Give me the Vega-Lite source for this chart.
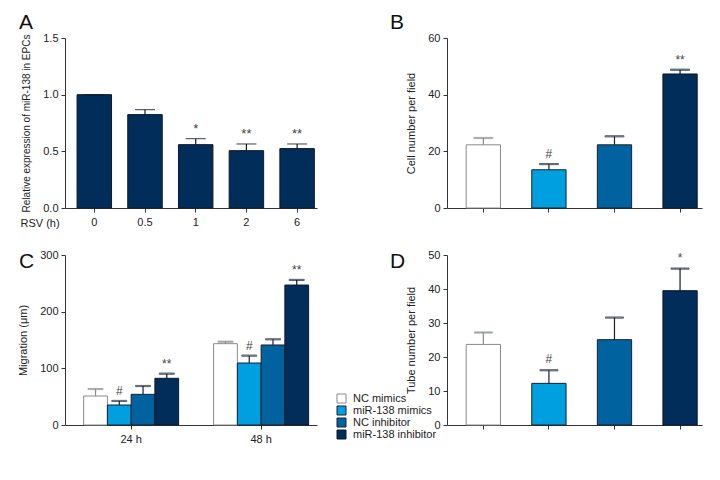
{
  "$schema": "https://vega.github.io/schema/vega-lite/v6.json",
  "padding": {"left": 17, "top": 12, "right": 5, "bottom": 5},
  "bounds": "flush",
  "columns": 2,
  "spacing": {"row": 47, "column": 130},
  "resolve": {"scale": {"fill": "independent", "stroke": "independent", "color": "independent"}, "legend": {"fill": "independent", "stroke": "independent", "color": "independent"}},
  "config": {
    "font": "Liberation Sans, Arial, sans-serif",
    "view": {"stroke": null},
    "axis": {"domainColor": "#333333", "tickColor": "#333333", "labelColor": "#222222", "titleColor": "#222222", "labelFontSize": 11, "titleFontSize": 11, "titleFontWeight": "normal", "grid": false, "tickSize": 4, "labelPadding": 3, "domainWidth": 1, "tickWidth": 1, "titlePadding": 11, "labelOverlap": false},
    "title": {"fontSize": 21, "fontWeight": "normal", "anchor": "start", "color": "#111111", "frame": "group"}
  },
  "datasets": {
    "A": [
      {"rsv": "0", "value": 1.0, "upper": 1.0, "sig": ""},
      {"rsv": "0.5", "value": 0.824, "upper": 0.868, "sig": ""},
      {"rsv": "1", "value": 0.559, "upper": 0.612, "sig": "*"},
      {"rsv": "2", "value": 0.506, "upper": 0.565, "sig": "**"},
      {"rsv": "6", "value": 0.524, "upper": 0.565, "sig": "**"}
    ],
    "B": [
      {"group": "NC mimics", "value": 22.3, "upper": 24.7, "sig": ""},
      {"group": "miR-138 mimics", "value": 13.5, "upper": 15.5, "sig": "#"},
      {"group": "NC inhibitor", "value": 22.3, "upper": 25.3, "sig": ""},
      {"group": "miR-138 inhibitor", "value": 47.3, "upper": 48.8, "sig": "**"}
    ],
    "C": [
      {"time": "24 h", "group": "NC mimics", "value": 51.2, "upper": 63.5, "sig": ""},
      {"time": "24 h", "group": "miR-138 mimics", "value": 35.3, "upper": 42.4, "sig": "#"},
      {"time": "24 h", "group": "NC inhibitor", "value": 54.1, "upper": 68.8, "sig": ""},
      {"time": "24 h", "group": "miR-138 inhibitor", "value": 82.4, "upper": 90.6, "sig": "**"},
      {"time": "48 h", "group": "NC mimics", "value": 143.5, "upper": 147, "sig": ""},
      {"time": "48 h", "group": "miR-138 mimics", "value": 109.4, "upper": 122.4, "sig": "#"},
      {"time": "48 h", "group": "NC inhibitor", "value": 141.2, "upper": 151.2, "sig": ""},
      {"time": "48 h", "group": "miR-138 inhibitor", "value": 247, "upper": 256, "sig": "**"}
    ],
    "D": [
      {"group": "NC mimics", "value": 23.7, "upper": 27.2, "sig": ""},
      {"group": "miR-138 mimics", "value": 12.25, "upper": 16.1, "sig": "#"},
      {"group": "NC inhibitor", "value": 25.1, "upper": 31.6, "sig": ""},
      {"group": "miR-138 inhibitor", "value": 39.5, "upper": 46, "sig": "*"}
    ]
  },
  "concat": [
    {
      "title": {"text": "A", "dx": -46, "dy": 3, "offset": 2},
      "width": 252, "height": 170,
      "data": {"name": "A"},
      "encoding": {
        "x": {"field": "rsv", "type": "nominal", "sort": null,
          "scale": {"paddingInner": 0.32, "paddingOuter": 0.145, "align": 0.82},
          "axis": {"labelAngle": 0, "title": "RSV (h)", "titleX": -45, "titleY": 15, "titleAlign": "left", "titleAngle": 0, "titleBaseline": "middle", "titleFontSize": 11, "labelPadding": 4}}
      },
      "layer": [
        {"mark": {"type": "bar", "color": "#002d5a", "stroke": "#101828", "strokeWidth": 1},
         "encoding": {"y": {"field": "value", "type": "quantitative", "scale": {"domain": [0, 1.5], "nice": false},
           "axis": {"values": [0, 0.5, 1, 1.5], "tickCount": 10, "format": ".1f", "title": "Relative expression of miR-138 in EPCs", "titleFontSize": 10}}}},
        {"mark": {"type": "rule", "color": "#101828", "strokeWidth": 1.2},
         "encoding": {"y": {"field": "value", "type": "quantitative"}, "y2": {"field": "upper"}}},
        {"mark": {"type": "tick", "size": 20, "thickness": 1.2, "color": "#101828"},
         "encoding": {"y": {"field": "upper", "type": "quantitative"}}},
        {"mark": {"type": "text", "baseline": "bottom", "dy": -3, "fontSize": 13, "color": "#444444"},
         "encoding": {"y": {"field": "upper", "type": "quantitative"}, "text": {"field": "sig"}}}
      ]
    },
    {
      "title": {"text": "B", "dx": -57, "dy": 3, "offset": 2},
      "width": 255, "height": 170,
      "data": {"name": "B"},
      "encoding": {
        "x": {"field": "group", "type": "nominal", "sort": null,
          "scale": {"paddingInner": 0.477, "paddingOuter": 0.183, "align": 0.8},
          "axis": {"labels": false, "title": null}}
      },
      "layer": [
        {"mark": {"type": "bar", "strokeWidth": 1},
         "encoding": {
           "y": {"field": "value", "type": "quantitative", "scale": {"domain": [0, 60], "nice": false},
             "axis": {"values": [0, 20, 40, 60], "tickCount": 10, "title": "Cell number per field"}},
           "fill": {"field": "group", "type": "nominal", "legend": null,
             "scale": {"domain": ["NC mimics", "miR-138 mimics", "NC inhibitor", "miR-138 inhibitor"], "range": ["#ffffff", "#009fdf", "#00629e", "#002d5a"]}},
           "stroke": {"field": "group", "type": "nominal", "legend": null,
             "scale": {"domain": ["NC mimics", "miR-138 mimics", "NC inhibitor", "miR-138 inhibitor"], "range": ["#8a8a8a", "#1a2030", "#1a2030", "#101828"]}}
         }},
        {"mark": {"type": "rule", "strokeWidth": 1.2},
         "encoding": {"y": {"field": "value", "type": "quantitative"}, "y2": {"field": "upper"},
           "stroke": {"field": "group", "type": "nominal", "legend": null}}},
        {"mark": {"type": "tick", "size": 19, "thickness": 1.2},
         "encoding": {"y": {"field": "upper", "type": "quantitative"},
           "stroke": {"field": "group", "type": "nominal", "legend": null}}},
        {"mark": {"type": "text", "baseline": "bottom", "dy": -3, "fontSize": 12, "color": "#444444"},
         "encoding": {"y": {"field": "upper", "type": "quantitative"}, "text": {"field": "sig"}}}
      ]
    },
    {
      "title": {"text": "C", "dx": -46, "dy": 25, "offset": 2},
      "width": 252, "height": 170,
      "data": {"name": "C"},
      "encoding": {
        "x": {"field": "time", "type": "nominal", "sort": null,
          "scale": {"paddingInner": 0.269, "paddingOuter": 0.104, "align": 0.69},
          "axis": {"labelAngle": 0, "title": null, "labelPadding": 4}},
        "xOffset": {"field": "group", "type": "nominal", "sort": null,
          "scale": {"domain": ["NC mimics", "miR-138 mimics", "NC inhibitor", "miR-138 inhibitor"], "paddingInner": 0, "paddingOuter": 0}}
      },
      "layer": [
        {"mark": {"type": "bar", "strokeWidth": 1},
         "encoding": {
           "y": {"field": "value", "type": "quantitative", "scale": {"domain": [0, 300], "nice": false},
             "axis": {"values": [0, 100, 200, 300], "tickCount": 10, "title": "Migration (μm)"}},
           "fill": {"field": "group", "type": "nominal",
             "scale": {"domain": ["NC mimics", "miR-138 mimics", "NC inhibitor", "miR-138 inhibitor"], "range": ["#ffffff", "#009fdf", "#00629e", "#002d5a"]},
             "legend": {"title": null, "orient": "none", "legendX": 271, "legendY": 138, "symbolType": "square", "symbolSize": 81, "symbolStrokeColor": "#222222", "symbolStrokeWidth": 1, "labelFontSize": 11, "labelColor": "#222222", "rowPadding": -4, "labelOffset": 6, "padding": 0}},
           "stroke": {"field": "group", "type": "nominal", "legend": null,
             "scale": {"domain": ["NC mimics", "miR-138 mimics", "NC inhibitor", "miR-138 inhibitor"], "range": ["#8a8a8a", "#1a2030", "#1a2030", "#101828"]}}
         }},
        {"mark": {"type": "rule", "strokeWidth": 1.2},
         "encoding": {"y": {"field": "value", "type": "quantitative"}, "y2": {"field": "upper"},
           "stroke": {"field": "group", "type": "nominal", "legend": null}}},
        {"mark": {"type": "tick", "size": 15, "thickness": 1.2},
         "encoding": {"y": {"field": "upper", "type": "quantitative"},
           "stroke": {"field": "group", "type": "nominal", "legend": null}}},
        {"mark": {"type": "text", "baseline": "bottom", "dy": -3, "fontSize": 12, "color": "#444444"},
         "encoding": {"y": {"field": "upper", "type": "quantitative"}, "text": {"field": "sig"}}}
      ]
    },
    {
      "title": {"text": "D", "dx": -57, "dy": 25, "offset": 2},
      "width": 255, "height": 170,
      "data": {"name": "D"},
      "encoding": {
        "x": {"field": "group", "type": "nominal", "sort": null,
          "scale": {"paddingInner": 0.477, "paddingOuter": 0.183, "align": 0.8},
          "axis": {"labels": false, "title": null}}
      },
      "layer": [
        {"mark": {"type": "bar", "strokeWidth": 1},
         "encoding": {
           "y": {"field": "value", "type": "quantitative", "scale": {"domain": [0, 50], "nice": false},
             "axis": {"values": [0, 10, 20, 30, 40, 50], "tickCount": 10, "title": "Tube number per field"}},
           "fill": {"field": "group", "type": "nominal", "legend": null,
             "scale": {"domain": ["NC mimics", "miR-138 mimics", "NC inhibitor", "miR-138 inhibitor"], "range": ["#ffffff", "#009fdf", "#00629e", "#002d5a"]}},
           "stroke": {"field": "group", "type": "nominal", "legend": null,
             "scale": {"domain": ["NC mimics", "miR-138 mimics", "NC inhibitor", "miR-138 inhibitor"], "range": ["#8a8a8a", "#1a2030", "#1a2030", "#101828"]}}
         }},
        {"mark": {"type": "rule", "strokeWidth": 1.2},
         "encoding": {"y": {"field": "value", "type": "quantitative"}, "y2": {"field": "upper"},
           "stroke": {"field": "group", "type": "nominal", "legend": null}}},
        {"mark": {"type": "tick", "size": 18, "thickness": 1.2},
         "encoding": {"y": {"field": "upper", "type": "quantitative"},
           "stroke": {"field": "group", "type": "nominal", "legend": null}}},
        {"mark": {"type": "text", "baseline": "bottom", "dy": -4, "fontSize": 12, "color": "#444444"},
         "encoding": {"y": {"field": "upper", "type": "quantitative"}, "text": {"field": "sig"}}}
      ]
    }
  ]
}
